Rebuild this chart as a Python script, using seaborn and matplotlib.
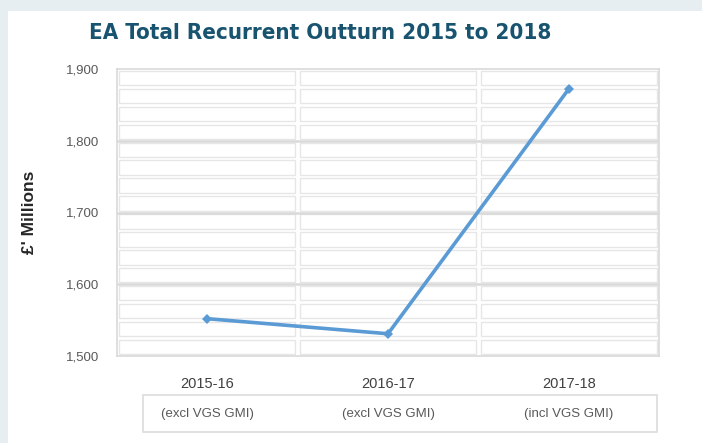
import pandas as pd
import seaborn as sns
import matplotlib
matplotlib.use("Agg")
from matplotlib import pyplot as plt
from matplotlib.patches import Rectangle
from matplotlib.transforms import blended_transform_factory

years = ["2015-16", "2016-17", "2017-18"]
notes = ["(excl VGS GMI)", "(excl VGS GMI)", "(incl VGS GMI)"]
outturn = [1552, 1531, 1872]
y_ticks = [1500, 1600, 1700, 1800, 1900]

df = pd.DataFrame({"Year": years, "Outturn": outturn})

sns.set_theme(style="white")
plt.rcParams["font.family"] = ["Liberation Sans", "DejaVu Sans"]

fig = plt.figure(figsize=(7.02, 4.43), dpi=100, facecolor="#e6eef2")
# white panel inside the pale border
fig.patches.append(Rectangle((8 / 702, 0), 1, 1 - 11 / 443, transform=fig.transFigure,
                             facecolor="white", edgecolor="none", zorder=-2))

ax = fig.add_axes([117 / 702, 1 - 356 / 443, 542 / 702, 287 / 443])
ax.set_zorder(2)
ax.set_facecolor("white")

# table-like cell grid behind the line
cell_h = 25
gx, gy = 0.012, 2.5
for col in range(len(years)):
    for row in range(int((1900 - 1500) / cell_h)):
        y0 = 1500 + row * cell_h
        ax.add_patch(Rectangle((col - 0.5 + gx, y0 + gy), 1 - 2 * gx, cell_h - 2 * gy,
                               facecolor="none", edgecolor="#e6e6e6", lw=1.0, zorder=1))
for t in y_ticks[1:-1]:
    ax.axhline(t, color="#d9d9d9", lw=1.8, zorder=1)

sns.lineplot(data=df, x="Year", y="Outturn", ax=ax, color="#5b9bd5", lw=2.6,
             marker="D", markersize=5, markeredgewidth=0, sort=False, zorder=3)

ax.set_xlim(-0.5, 2.5)
ax.set_ylim(1500, 1900)
ax.set_yticks(y_ticks)
ax.set_yticklabels([f"{v:,}" for v in y_ticks])
ax.tick_params(axis="y", length=0, pad=13, labelsize=9.5, labelcolor="#595959")
ax.tick_params(axis="x", length=0, pad=15, labelsize=10.5, labelcolor="#404040")
ax.set_xlabel("")
ax.set_ylabel("£' Millions", fontsize=12.5, fontweight="bold", color="#262626")
ax.yaxis.set_label_coords(-0.1476, 0.5)
for s in ax.spines.values():
    s.set_color("#d9d9d9")
    s.set_linewidth(1.2)

# note row below the categories
fig.patches.append(Rectangle((143 / 702, 1 - 432 / 443), (657 - 143) / 702, 37 / 443,
                             transform=fig.transFigure, facecolor="white",
                             edgecolor="#dcdcdc", lw=1.2, zorder=-1))
tr = blended_transform_factory(ax.transData, fig.transFigure)
for i, note in enumerate(notes):
    ax.text(i, 1 - 414 / 443, note, transform=tr, ha="center", va="center",
            fontsize=9.5, color="#595959", clip_on=False)

fig.text(320 / 702, 1 - 33 / 443, "EA Total Recurrent Outturn 2015 to 2018",
         ha="center", va="center", fontsize=16, fontweight="bold", color="#185470",
         family="DejaVu Sans", fontstretch="condensed")

fig.savefig("out.png", dpi=100, facecolor=fig.get_facecolor())
